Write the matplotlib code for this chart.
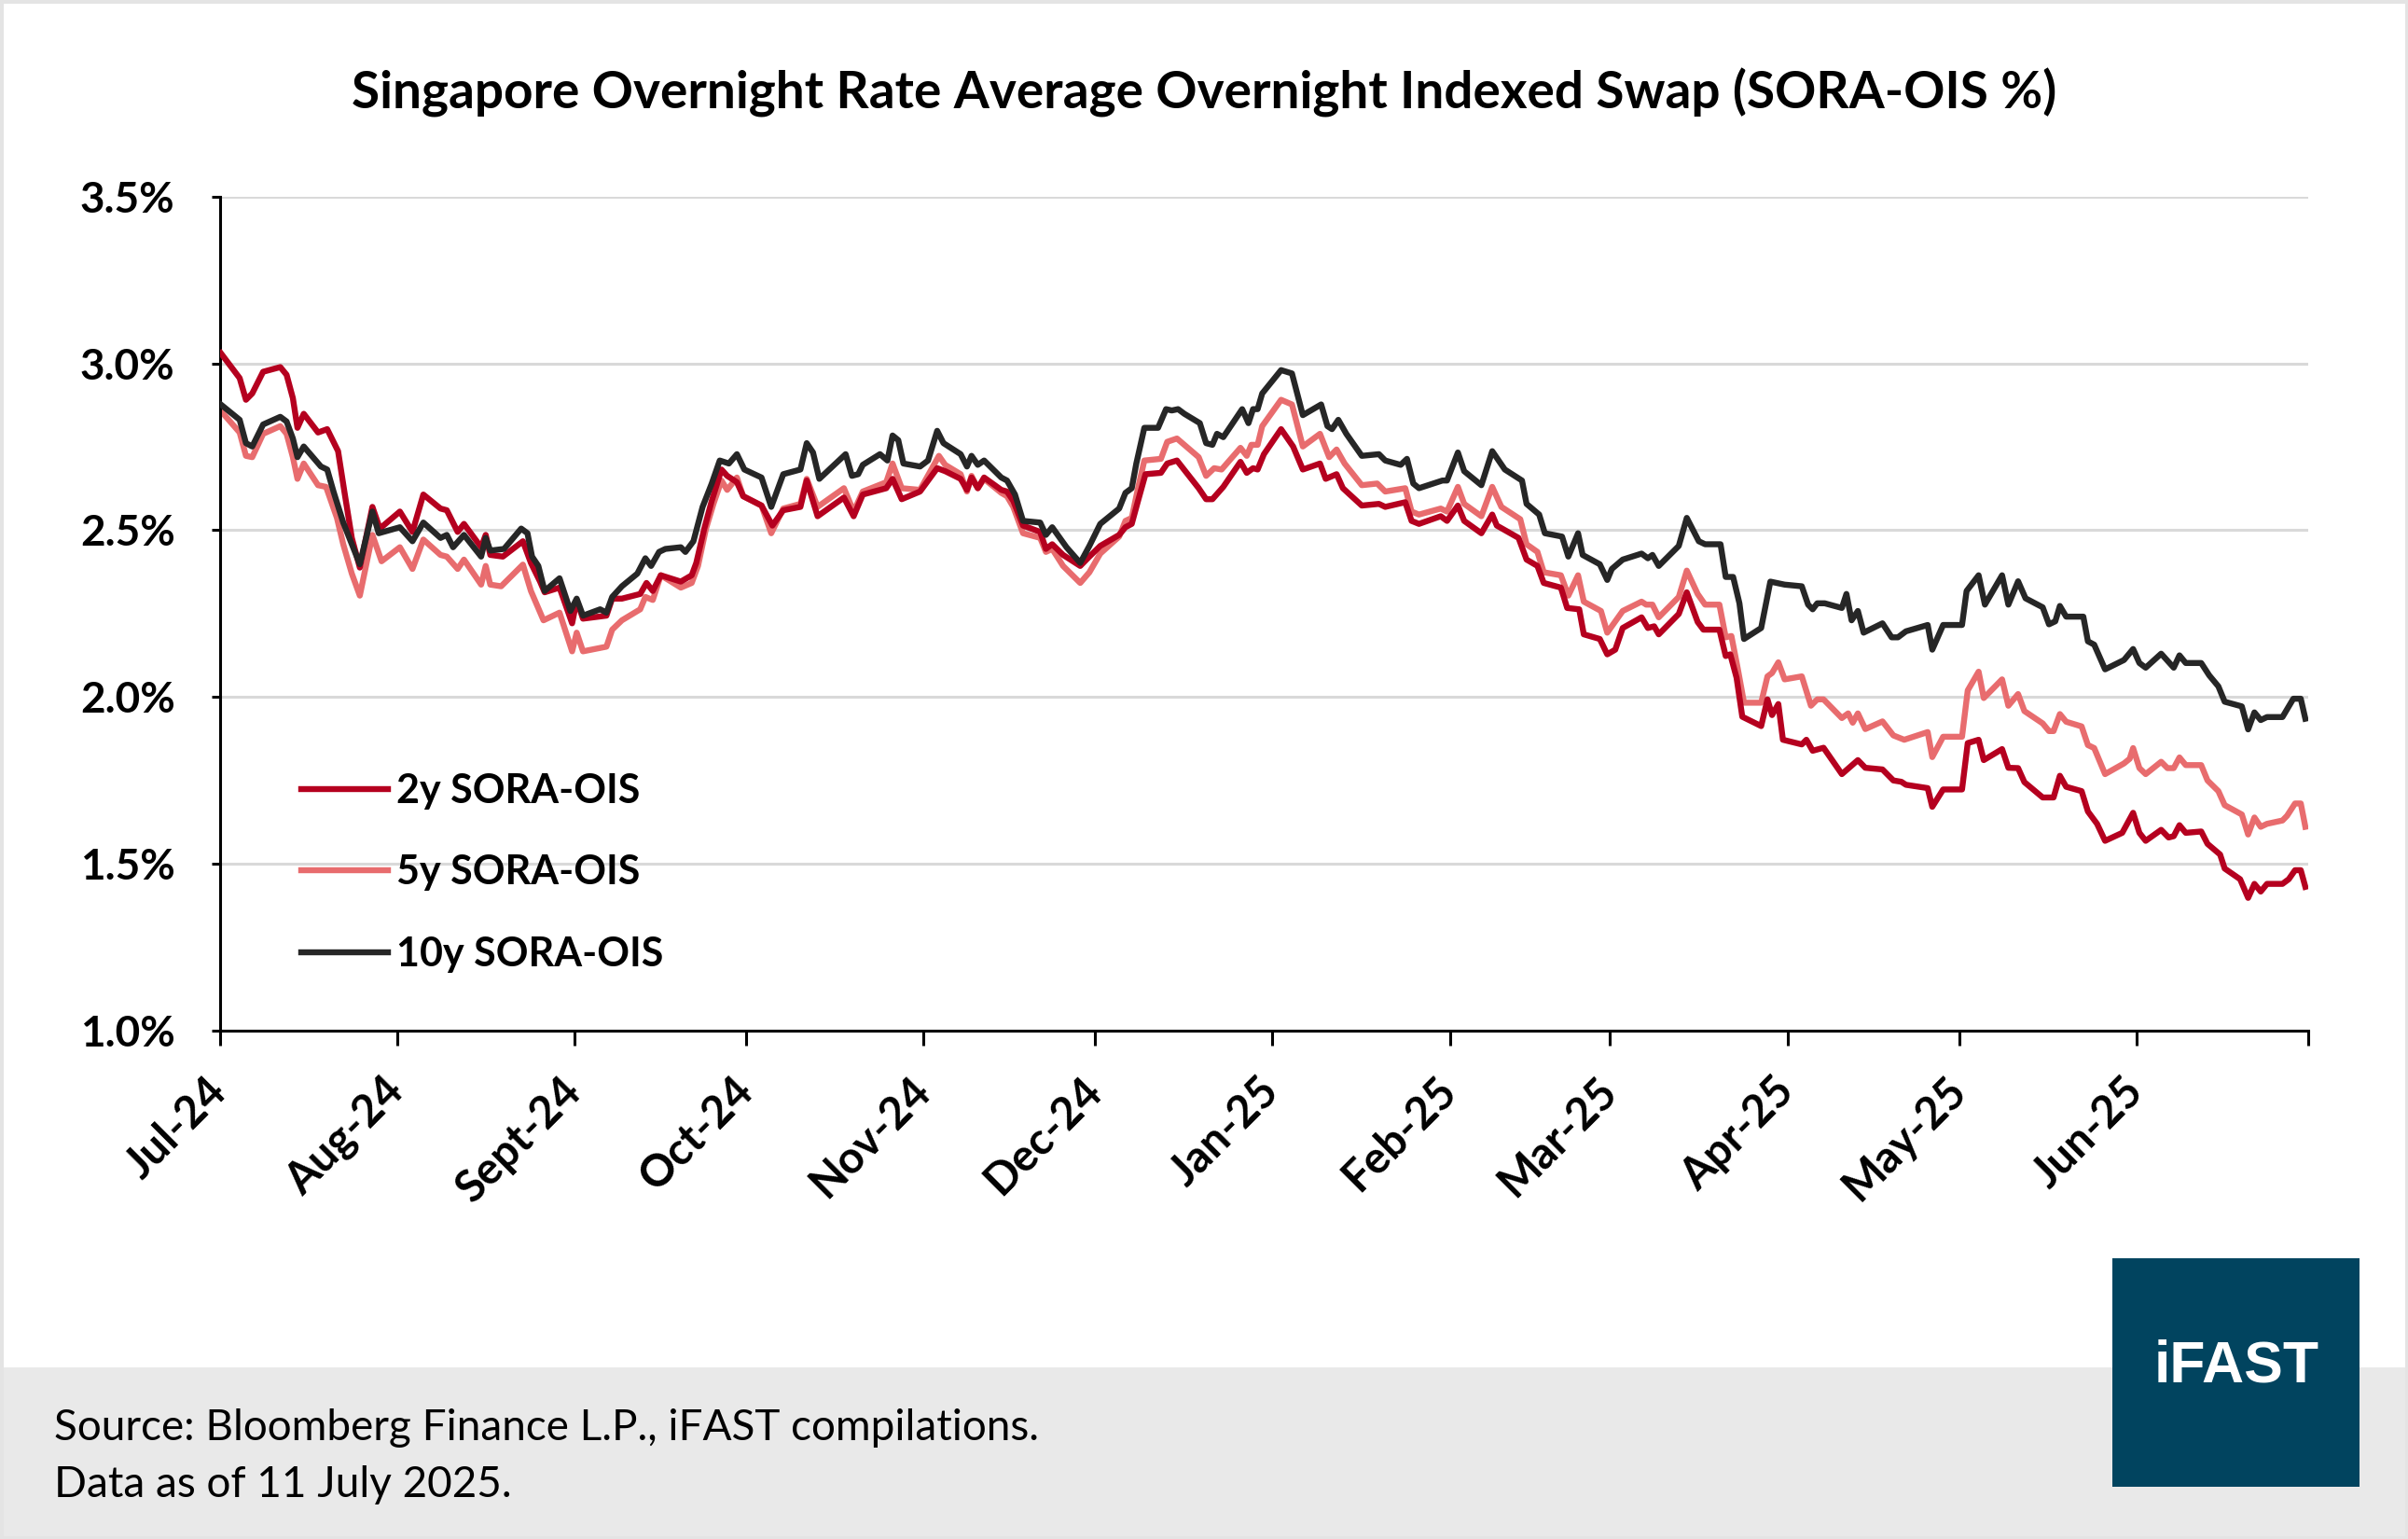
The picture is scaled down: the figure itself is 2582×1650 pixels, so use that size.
import numpy as np
import matplotlib
matplotlib.use('Agg')
import matplotlib.pyplot as plt
import matplotlib.dates as mdates
from matplotlib.patches import Rectangle

plt.rcParams['font.family'] = ['Lato', 'DejaVu Sans']

# days counted from 1 Jul 2024, values in %
days_2y = [0.2, 3.5, 4.6, 5.7, 7.6, 10.6, 11.7, 12.8, 13.6, 14.7, 17.2, 18.8, 20.7, 21.8, 23.1, 24.5, 26.7, 28.0,
           31.5, 33.7, 35.6, 38.6, 39.7, 41.6, 42.7, 45.7, 46.5, 47.3, 49.5, 53.0, 54.4, 56.0, 56.8, 59.4,
           61.6, 62.4, 63.5, 67.6, 68.6, 70.3, 73.5, 74.6, 75.7, 77.1, 80.6, 82.5, 83.3, 84.7, 86.0, 87.7, 88.7,
           90.4, 91.5, 94.7, 96.6, 98.5, 101.5, 102.6, 104.5, 109.1, 110.8, 112.4, 116.5, 117.6, 119.2, 122.4,
           125.4, 126.8, 129.5, 130.6, 131.4, 132.5, 133.6, 136.6, 137.6, 138.7, 140.4, 143.4, 144.4, 145.5,
           147.4, 150.4, 152.0, 153.9, 157.2, 158.3, 159.4, 160.5, 161.8, 164.5, 165.6, 167.3, 171.1, 172.4,
           173.5, 175.4, 178.4, 179.5, 180.6, 181.4, 182.5, 185.5, 187.6, 189.3,
           192.3, 193.3, 195.2, 196.3, 199.6, 202.6, 203.7, 207.2, 208.3, 209.6, 213.4, 214.5, 216.4, 217.5,
           220.5, 222.4, 223.2, 227.0, 228.4, 230.3, 231.4, 234.4, 235.5, 237.6, 238.4, 241.2, 242.5, 243.9,
           245.2, 248.5, 249.6, 250.7, 251.5, 255.0, 256.4, 258.3, 259.3, 262.1, 263.2, 264.0, 265.1, 266.1,
           269.4, 270.5, 271.3, 272.4, 273.2, 276.5, 277.3, 278.4, 280.3, 283.5, 286.3, 287.6, 290.6, 292.5,
           293.9, 294.7, 298.5, 299.3, 301.2, 304.5, 305.5, 307.4, 308.3, 311.5, 312.6, 314.3, 315.4, 318.6,
           320.5, 321.6, 322.7, 325.4, 326.5, 328.1, 329.5, 332.5, 334.4, 335.5, 336.6, 339.3, 340.6, 341.5,
           342.5, 343.6, 346.3, 347.4, 349.6, 350.4, 353.1, 354.5, 355.6, 356.7, 357.8, 360.5, 361.6, 362.7,
           363.7, 364.5]
sora_2y = [3.031, 2.956, 2.891, 2.91, 2.975, 2.989, 2.966, 2.896, 2.807, 2.849, 2.793, 2.803, 2.737, 2.616, 2.477,
           2.388, 2.57, 2.505, 2.556, 2.495, 2.607, 2.565, 2.56, 2.495, 2.519, 2.449, 2.486, 2.426, 2.421, 2.467,
           2.402, 2.346, 2.314, 2.328,
           2.221, 2.29, 2.235, 2.244, 2.295, 2.295, 2.309, 2.342, 2.318, 2.365, 2.346, 2.365, 2.402, 2.505, 2.588,
           2.682, 2.663, 2.644, 2.602, 2.574, 2.514, 2.56, 2.57, 2.649, 2.542, 2.598, 2.542, 2.607, 2.626, 2.654,
           2.593, 2.616,
           2.686, 2.677, 2.654, 2.621, 2.658, 2.626, 2.658, 2.621, 2.616, 2.588, 2.514, 2.495, 2.444, 2.458, 2.426,
           2.393, 2.421, 2.453, 2.486, 2.509, 2.519, 2.588, 2.668, 2.672, 2.7, 2.709, 2.626, 2.593, 2.593, 2.63,
           2.705, 2.672, 2.686, 2.682, 2.728, 2.803, 2.751, 2.682,
           2.7, 2.654, 2.668, 2.626, 2.574, 2.579, 2.57, 2.584, 2.528, 2.519, 2.542, 2.528, 2.574, 2.528, 2.491,
           2.547, 2.514, 2.477, 2.412, 2.393, 2.342, 2.328, 2.267, 2.263, 2.188, 2.174, 2.128, 2.142, 2.207, 2.239,
           2.207, 2.212, 2.188, 2.249, 2.314, 2.225, 2.202, 2.202, 2.123, 2.128, 2.058, 1.941, 1.913, 1.993, 1.946,
           1.979, 1.872, 1.858, 1.872, 1.839, 1.848, 1.769, 1.811, 1.788, 1.783, 1.75, 1.746, 1.737, 1.727, 1.671,
           1.723, 1.723, 1.862, 1.872, 1.811, 1.844, 1.788, 1.787, 1.745, 1.699, 1.699, 1.764, 1.731, 1.718, 1.657,
           1.62, 1.569, 1.593, 1.653, 1.593, 1.569, 1.602, 1.579, 1.583, 1.616, 1.593, 1.597, 1.56, 1.528, 1.486,
           1.454, 1.398, 1.44, 1.417, 1.44, 1.44, 1.454, 1.481, 1.481, 1.431]

days_5y = [0.2, 3.5, 4.6, 5.7, 7.6, 10.6, 11.7, 12.8, 13.6, 14.7, 17.2, 18.6, 20.5, 21.6, 23.1, 24.5, 26.7, 28.3,
           31.5, 33.7, 35.6, 38.6, 39.7, 41.6, 42.7, 45.7, 46.5, 47.3, 49.2, 53.0, 54.4, 56.6, 59.4,
           61.6, 62.4, 63.5, 67.6, 68.6, 70.3, 73.5, 74.4, 75.7, 77.1, 80.6, 82.5, 83.6, 85.0, 86.3, 87.7, 88.7,
           90.4, 91.5, 94.7, 96.4, 98.5, 101.5, 102.6, 104.5, 109.1, 110.8, 112.4, 116.5, 117.6, 119.2, 122.4,
           125.7, 126.8, 129.5, 130.6, 131.4, 132.5, 133.6, 136.6, 137.6, 138.7, 140.4, 143.4, 144.4, 145.5,
           147.4, 150.4, 152.0, 153.9, 157.2, 158.3, 159.4, 160.5, 161.6, 164.5, 165.6, 167.3, 171.1, 172.4,
           173.8, 175.1, 178.4, 179.5, 180.3, 181.4, 182.2, 185.5, 187.4, 189.3,
           192.3, 193.9, 195.2, 196.6, 199.6, 202.3, 203.7, 207.2, 208.3, 209.6, 213.4, 214.5, 216.4, 217.5,
           220.5, 222.4, 224.0, 227.3, 228.4, 230.3, 231.4, 234.4, 235.7, 237.4, 238.4, 241.4, 242.5, 245.2,
           248.5, 249.3, 250.4, 251.5, 255.0, 256.4, 258.3, 259.6, 262.1, 263.2, 264.2, 265.3, 266.4, 269.4,
           270.5, 271.3, 272.4, 273.5, 276.5, 278.1, 279.2, 280.3, 283.5, 284.6, 285.4, 286.3, 287.6, 290.6,
           292.5, 294.4, 298.5, 299.3, 301.2, 304.5, 305.5, 307.4, 308.3, 311.5, 312.6, 314.3, 315.4, 318.6,
           319.7, 320.5, 321.6, 322.7, 325.4, 326.5, 327.6, 329.5, 332.8, 333.8, 334.4, 335.5, 336.6, 339.3,
           340.4, 341.5, 342.5, 343.6, 346.3, 347.4, 349.3, 350.4, 353.4, 354.5, 355.6, 356.7, 357.8, 360.5,
           361.3, 362.7, 363.7, 364.5]
sora_5y = [2.858, 2.793, 2.723, 2.719, 2.789, 2.812, 2.789, 2.719, 2.654, 2.7, 2.635, 2.63, 2.537, 2.458, 2.37,
           2.304, 2.486, 2.407, 2.449, 2.384, 2.472, 2.426, 2.421, 2.384, 2.412, 2.337, 2.393, 2.337, 2.332, 2.397,
           2.318, 2.23, 2.253,
           2.137, 2.193, 2.137, 2.151, 2.202, 2.23, 2.263, 2.3, 2.291, 2.365, 2.328, 2.342, 2.393, 2.505, 2.579,
           2.649, 2.621, 2.658, 2.602, 2.574, 2.491, 2.565, 2.579, 2.654, 2.57, 2.626, 2.556, 2.616, 2.644, 2.7,
           2.626, 2.621,
           2.723, 2.696, 2.668, 2.616, 2.663, 2.626, 2.654, 2.612, 2.602, 2.57, 2.491, 2.477, 2.435, 2.444, 2.393,
           2.342, 2.374, 2.43, 2.481, 2.528, 2.537, 2.626, 2.709, 2.714, 2.765, 2.775, 2.719, 2.663, 2.686, 2.682,
           2.747, 2.723, 2.756, 2.756, 2.812, 2.891, 2.877, 2.751,
           2.789, 2.719, 2.742, 2.7, 2.635, 2.64, 2.616, 2.626, 2.556, 2.547, 2.565, 2.556, 2.63, 2.579, 2.542,
           2.63, 2.57, 2.533, 2.458, 2.435, 2.374, 2.365, 2.304, 2.365, 2.286, 2.258, 2.193, 2.258, 2.286, 2.277,
           2.277, 2.239, 2.3, 2.379, 2.309, 2.277, 2.277, 2.179, 2.183, 2.086, 1.983, 1.983, 2.062, 2.072, 2.104,
           2.053, 2.062, 1.974, 1.993, 1.993, 1.937, 1.951, 1.923, 1.951, 1.904, 1.927, 1.885, 1.872, 1.895, 1.82,
           1.881, 1.881, 2.02, 2.076, 1.997, 2.053, 1.974, 2.009, 1.958, 1.921, 1.898, 1.898, 1.949, 1.926, 1.912,
           1.856, 1.847, 1.769, 1.801, 1.815, 1.847, 1.787, 1.769, 1.806, 1.787, 1.787, 1.819, 1.796, 1.796, 1.75,
           1.718, 1.676, 1.648, 1.588, 1.639, 1.611, 1.62, 1.63, 1.644, 1.681, 1.681, 1.611]

days_10y = [0.2, 3.5, 4.6, 5.7, 7.6, 10.6, 11.7, 12.8, 13.6, 14.7, 17.7, 18.8, 19.9, 21.6, 23.1, 24.5, 26.7, 27.8,
            31.5, 33.7, 35.6, 38.6, 39.7, 40.8, 42.7, 45.7, 46.5, 47.3, 49.7, 52.7, 53.8, 54.6, 55.7, 56.8, 59.4,
            61.3, 62.4, 63.5, 66.5, 67.6, 68.6, 70.3, 73.0, 74.4, 75.4, 76.8, 77.9, 80.6, 81.4, 82.8, 84.4, 86.0,
            87.4, 89.0, 90.4, 91.7, 94.7, 96.4, 98.5, 101.5, 102.6, 103.7, 104.8, 109.4, 110.5, 111.6, 112.4,
            115.4, 116.7, 117.6, 118.6, 119.5, 122.4, 123.8,
            125.4, 126.5, 129.5, 130.6, 131.4, 132.5, 133.6, 136.6, 137.6, 139.0, 140.4, 143.4, 144.4, 145.5,
            148.0, 150.4, 152.0, 153.9, 157.2, 158.3, 159.4, 160.2, 161.6, 164.0, 165.4, 166.4, 167.5, 168.6,
            171.3, 172.4, 173.5, 174.3, 175.4, 178.7, 179.8, 180.6, 181.4, 182.2, 185.5, 187.4, 189.3,
            192.5, 193.6, 194.4, 195.5, 196.9, 199.6, 202.6, 203.7, 206.4, 207.5, 208.6, 209.6, 213.7, 214.5,
            216.4, 217.5, 220.5, 222.4, 224.6, 227.6, 228.4, 230.6, 231.6, 234.6, 235.7, 237.4, 238.2, 241.2,
            242.5, 243.3, 245.2, 248.5, 249.6, 250.4, 251.5, 255.0, 256.4, 258.5, 259.6, 262.3, 263.2, 264.5,
            265.6, 266.4, 269.4, 271.0, 273.5, 276.5, 277.6, 278.4, 279.2, 280.5, 283.5, 284.3, 285.2, 286.3,
            287.3, 290.6, 292.2, 293.3, 294.7, 298.5, 299.3, 301.2, 304.5, 305.3, 307.4, 308.5, 311.5, 312.6,
            314.3, 315.6, 318.6, 319.7, 320.8, 321.6, 322.7, 325.7, 326.5, 327.6, 329.5, 332.8, 334.4, 335.5,
            336.6, 339.3, 341.5, 342.5, 343.6, 346.3, 347.7, 349.3, 350.4, 353.4, 354.5, 355.6, 356.7, 357.8,
            360.5, 362.4, 363.7, 364.5]
sora_10y = [2.877, 2.831, 2.761, 2.751, 2.817, 2.84, 2.826, 2.775, 2.719, 2.751, 2.691, 2.682, 2.616, 2.523,
            2.458, 2.398, 2.556, 2.491, 2.509, 2.467, 2.523, 2.477, 2.486, 2.449, 2.486, 2.421, 2.477, 2.439,
            2.444, 2.505, 2.491, 2.421, 2.393, 2.318, 2.356,
            2.258, 2.295, 2.244, 2.263, 2.253, 2.3, 2.332, 2.37, 2.416, 2.393, 2.435, 2.444, 2.449, 2.435, 2.467,
            2.57, 2.64, 2.709, 2.7, 2.728, 2.682, 2.658, 2.57, 2.668, 2.682, 2.761, 2.733, 2.654, 2.728, 2.663,
            2.668, 2.696, 2.728, 2.709, 2.784, 2.77, 2.7, 2.691, 2.709,
            2.798, 2.761, 2.728, 2.691, 2.723, 2.696, 2.709, 2.658, 2.649, 2.607, 2.528, 2.523, 2.486, 2.509,
            2.449, 2.402, 2.453, 2.519, 2.565, 2.612, 2.626, 2.7, 2.807, 2.807, 2.863, 2.859, 2.863, 2.849,
            2.821, 2.761, 2.756, 2.789, 2.779, 2.863, 2.821, 2.863, 2.863, 2.91, 2.98, 2.97, 2.845,
            2.877, 2.812, 2.803, 2.831, 2.789, 2.723, 2.728, 2.709, 2.696, 2.714, 2.64, 2.626, 2.649, 2.649,
            2.733, 2.677, 2.635, 2.737, 2.682, 2.649, 2.579, 2.547, 2.491, 2.481, 2.421, 2.491, 2.426, 2.398,
            2.351, 2.384, 2.412, 2.43, 2.416, 2.426, 2.393, 2.453, 2.537, 2.467, 2.458, 2.458, 2.36, 2.36,
            2.281, 2.174, 2.207, 2.346, 2.337, 2.332, 2.277, 2.263, 2.281, 2.281, 2.267, 2.309, 2.23, 2.258,
            2.193, 2.221, 2.179, 2.179, 2.197, 2.216, 2.142, 2.216, 2.216, 2.318, 2.365, 2.277, 2.365, 2.277,
            2.347, 2.296, 2.269, 2.218, 2.227, 2.273, 2.241, 2.241, 2.167, 2.157, 2.083, 2.111, 2.144, 2.102,
            2.088, 2.13, 2.088, 2.125, 2.102, 2.102, 2.065, 2.032, 1.986, 1.972, 1.903, 1.954, 1.931, 1.94,
            1.94, 1.995, 1.995, 1.935]

month_labels = ['Jul-24', 'Aug-24', 'Sept-24', 'Oct-24', 'Nov-24', 'Dec-24', 'Jan-25',
                'Feb-25', 'Mar-25', 'Apr-25', 'May-25', 'Jun-25', '']
y_ticks = [1.0, 1.5, 2.0, 2.5, 3.0, 3.5]

start = mdates.date2num(np.datetime64('2024-07-01'))
months = np.arange('2024-07', '2025-08', dtype='datetime64[M]').astype('datetime64[D]')
month_pos = mdates.date2num(months)

W, H = 2582, 1650
fig = plt.figure(figsize=(W / 100, H / 100), dpi=100)
fig.patch.set_facecolor('white')

# grey footer band + logo
fig.patches.append(Rectangle((0, 0), 1, (H - 1466) / H, transform=fig.transFigure,
                             facecolor='#E9E9E9', edgecolor='none', zorder=0))
fig.patches.append(Rectangle((0, 0), 1, 1, transform=fig.transFigure, facecolor='none',
                             edgecolor='#E4E4E4', linewidth=5, zorder=5))
fig.patches.append(Rectangle((2265 / W, 1 - 1594 / H), 265 / W, 245 / H, transform=fig.transFigure,
                             facecolor='#01445F', edgecolor='none', zorder=1))
fig.text(2398 / W, 1 - 1465 / H, 'iFAST', color='white', fontsize=45, fontweight='bold',
         family='Liberation Sans', ha='center', va='center', zorder=2)

ax = fig.add_axes([235.5 / W, 1 - 1105 / H, (2475 - 235.5) / W, (1105 - 210.8) / H])

ax.plot(start + np.array(days_2y), sora_2y, color='#B5001F', lw=4.6, label='2y SORA-OIS', zorder=3)
ax.plot(start + np.array(days_5y), sora_5y, color='#E86C6E', lw=4.6, label='5y SORA-OIS', zorder=2)
ax.plot(start + np.array(days_10y), sora_10y, color='#262626', lw=4.6, label='10y SORA-OIS', zorder=4)

ax.set_xlim(month_pos[0], month_pos[-1])
ax.set_ylim(1.0, 3.5)
ax.set_yticks(y_ticks)
ax.set_yticklabels([f'{v:.1f}%' for v in y_ticks], fontsize=33, fontweight='bold')
ax.set_xticks(month_pos)
ax.set_xticklabels(month_labels, fontsize=34, fontweight='bold', rotation=45,
                   ha='right', va='center', rotation_mode='anchor')

for s in ['top', 'right']:
    ax.spines[s].set_visible(False)
for s in ['left', 'bottom']:
    ax.spines[s].set_linewidth(2.2)
    ax.spines[s].set_color('black')
ax.tick_params(axis='y', length=6.5, width=2.2, pad=28)
ax.tick_params(axis='x', length=11.5, width=2.2, pad=30)
ax.yaxis.grid(True, color='#D9D9D9', linewidth=2.2)
ax.set_axisbelow(True)

# legend inside the plot, lower left
ax.legend(loc='upper left', bbox_to_anchor=(323 / W, 1 - 828 / H), bbox_transform=fig.transFigure,
          frameon=False, prop={'size': 31, 'weight': 'bold'}, handlelength=2.16, handletextpad=0.2,
          labelspacing=1.1, borderpad=0, borderaxespad=0)

fig.text(0.5, 1 - 99 / H, 'Singapore Overnight Rate Average Overnight Indexed Swap (SORA-OIS %)',
         fontsize=39.5, fontweight='bold', ha='center', va='center')
fig.text(58 / W, 1 - 1531 / H, 'Source: Bloomberg Finance L.P., iFAST compilations.',
         fontsize=33, ha='left', va='center')
fig.text(58 / W, 1 - 1592 / H, 'Data as of 11 July 2025.', fontsize=33, ha='left', va='center')

fig.savefig('out.png', dpi=100)
